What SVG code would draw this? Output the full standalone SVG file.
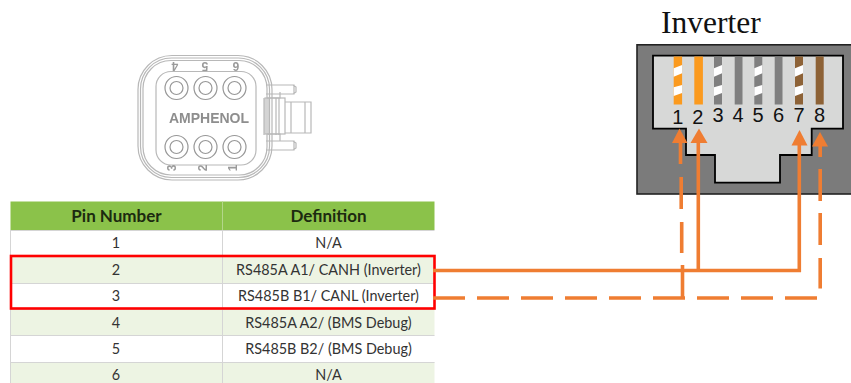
<svg xmlns="http://www.w3.org/2000/svg" width="851" height="383" viewBox="0 0 851 383">
<style>
.cell{font:14.400px Lato,"Liberation Sans",sans-serif;fill:#333;text-anchor:middle}
.head{font:bold 17px Lato,"Liberation Sans",sans-serif;fill:#1c2a10;text-anchor:middle}
.num{font:20px "Liberation Sans",Arial,sans-serif;fill:#111;text-anchor:middle}
.pinl{font:bold 12px "Liberation Sans",Arial,sans-serif;fill:#9a9a9a;text-anchor:middle}
.cl{fill:none;stroke:#b8b8b8;stroke-width:1.2}
.cd{fill:none;stroke:#979797;stroke-width:1.200}
.wire{fill:none;stroke:#ef7d32;stroke-width:3.6}
.head-a{fill:#ef7d32}
.white{fill:#fff}
.grid{stroke:#d5d5d5;stroke-width:1}
</style>
<defs><filter id="soft" x="-5%" y="-5%" width="110%" height="110%"><feGaussianBlur stdDeviation="0.6"/></filter></defs>
<rect width="851" height="383" fill="#fff"/>

<g id="amphenol-connector" filter="url(#soft)">
<rect class="cl" x="138" y="55.500" width="134" height="124.500" rx="34"/>
<rect class="cl" x="140.500" y="58" width="129" height="119.500" rx="31"/>
<rect class="cl" x="143" y="60.500" width="124" height="114.500" rx="28"/>
<rect class="cl" x="156" y="71.500" width="100" height="93.500" rx="15"/>
<g class="cd">
<circle cx="176.500" cy="88" r="11.500"/><circle cx="176.500" cy="88" r="6.500"/>
<circle cx="205.500" cy="88" r="11.500"/><circle cx="205.500" cy="88" r="6.500"/>
<circle cx="234.500" cy="88" r="11.500"/><circle cx="234.500" cy="88" r="6.500"/>
<circle cx="176.500" cy="147" r="11.500"/><circle cx="176.500" cy="147" r="6.500"/>
<circle cx="205.500" cy="147" r="11.500"/><circle cx="205.500" cy="147" r="6.500"/>
<circle cx="234.500" cy="147" r="11.500"/><circle cx="234.500" cy="147" r="6.500"/>
</g>
<text x="209" y="123" style="font:bold 14px 'Liberation Sans',Arial,sans-serif;fill:#8e8e8e;text-anchor:middle">AMPHENOL</text>
<text class="pinl" transform="translate(175,62) rotate(180)">4</text>
<text class="pinl" transform="translate(205,62) rotate(180)">5</text>
<text class="pinl" transform="translate(236,62) rotate(180)">6</text>
<text class="pinl" transform="translate(176,168) rotate(-90)">3</text>
<text class="pinl" transform="translate(207,168) rotate(-90)">2</text>
<text class="pinl" transform="translate(237,168) rotate(-90)">1</text>
<path class="cl" d="M266 85H294V94H266M266 150H294V141H266M293 85l3 2v5l-3 2M293 150l3-2v-5l-3-2"/>
<path class="cl" d="M264 98V135M269 98V135M276 98V135M279 98V135M291 102V133M305 102V133"/>
<rect class="cl" x="265" y="98" width="20" height="36"/>
<path class="cl" d="M285 102H311V133H285M267 98H280V92M267 134H280V141"/>
</g>

<g id="pin-table">
<rect x="10.500" y="201.500" width="424" height="28.500" fill="#8bc24a"/>
<rect x="10.500" y="256.500" width="424" height="26.500" fill="#edf4e3"/>
<rect x="10.500" y="309.500" width="424" height="26" fill="#edf4e3"/>
<rect x="10.500" y="362" width="424" height="21" fill="#edf4e3"/>
<path class="grid" d="M10.500 230V383M222.500 230V383M10.500 230.500H434.500M10.500 256.500H434.500M10.500 283.500H434.500M10.500 309.500H434.500M10.500 335.500H434.500M10.500 362.500H434.500"/>
<path d="M222.500 201.500V230" stroke="#b3d68a" stroke-width="1"/>
<text class="head" x="116.500" y="222">Pin Number</text>
<text class="head" x="328.500" y="222">Definition</text>
<text class="cell" x="116" y="248">1</text><text class="cell" x="328.500" y="248">N/A</text>
<text class="cell" x="116" y="275">2</text><text class="cell" x="328.500" y="275">RS485A A1/ CANH (Inverter)</text>
<text class="cell" x="116" y="301">3</text><text class="cell" x="328.500" y="301">RS485B B1/ CANL (Inverter)</text>
<text class="cell" x="116" y="327.500">4</text><text class="cell" x="328.500" y="327.500">RS485A A2/ (BMS Debug)</text>
<text class="cell" x="116" y="354">5</text><text class="cell" x="328.500" y="354">RS485B B2/ (BMS Debug)</text>
<text class="cell" x="116" y="380">6</text><text class="cell" x="328.500" y="380">N/A</text>
</g>
<g id="highlight"><rect x="11" y="256" width="423.500" height="52.500" fill="none" stroke="#f00" stroke-width="2.600"/></g>

<g id="inverter-socket">
<text x="661" y="33" style="font:31.500px 'Liberation Serif','Times New Roman',serif;fill:#111">Inverter</text>
<rect x="637" y="44.800" width="216" height="149.200" fill="#7b7b7b" stroke="#222" stroke-width="1.600"/>
<path d="M653 55.700H843V128.700H811.700V155H780V182.700H715V155H686V128.700H653Z" fill="#d7d8d7" stroke="#000" stroke-width="1.800"/>
<rect x="673.700" y="56.500" width="8.400" height="48" fill="#fb9a1e"/>
<rect x="694.300" y="56.500" width="8.600" height="48" fill="#fb9a1e"/>
<rect x="714" y="56.500" width="8" height="48" fill="#7f7f7f"/>
<rect x="734.700" y="56.500" width="7.800" height="48" fill="#7f7f7f"/>
<rect x="754.300" y="56.500" width="8" height="48" fill="#7f7f7f"/>
<rect x="774.700" y="56.500" width="7.800" height="48" fill="#7f7f7f"/>
<rect x="795" y="56.500" width="8" height="48" fill="#8d6236"/>
<rect x="815.700" y="56.500" width="8" height="48" fill="#8d6236"/>
<path class="white" d="M673.700 68.300L682.100 65V73.300L673.700 76.700ZM673.700 87.300L682.100 85V93L673.700 96Z"/>
<path class="white" d="M714 68.300L722 65V73.300L714 76.700ZM714 87.300L722 85V93L714 96Z"/>
<path class="white" d="M754.300 68.300L762.300 65V73.300L754.300 76.700ZM754.300 87.300L762.300 85V93L754.300 96Z"/>
<path class="white" d="M795 68.300L803 65V73.300L795 76.700ZM795 87.300L803 85V93L795 96Z"/>
<text class="num" x="677.700" y="124">1</text>
<text class="num" x="697.700" y="124">2</text>
<text class="num" x="718" y="122">3</text>
<text class="num" x="738" y="122">4</text>
<text class="num" x="758" y="122">5</text>
<text class="num" x="778.500" y="122">6</text>
<text class="num" x="799" y="122">7</text>
<text class="num" x="819.500" y="122">8</text>
</g>

<g id="connectors">
<path class="wire" d="M433 270.500H799.300V142M698.300 270.500V142"/>
<path class="wire" d="M433 298H465M477 298H509M521 298H553M565 298H597M609 298H641M653 298H685M697 298H729M741 298H773M785 298H817"/>
<path class="wire" d="M820.200 288.500V258M820.200 245V213M820.200 201V169M820.200 157V146"/>
<path class="wire" d="M682.500 298V265M681.700 253V222M681.200 209V177M680.500 164V142"/>
<path class="head-a" d="M699 128.500L707.500 143H690.500Z"/>
<path class="head-a" d="M799.500 130L807.500 145.500H791.500Z"/>
<path class="head-a" d="M679.500 128.500L687.500 143H672Z"/>
<path class="head-a" d="M820 132L828 146.500H812Z"/>
</g>
</svg>
